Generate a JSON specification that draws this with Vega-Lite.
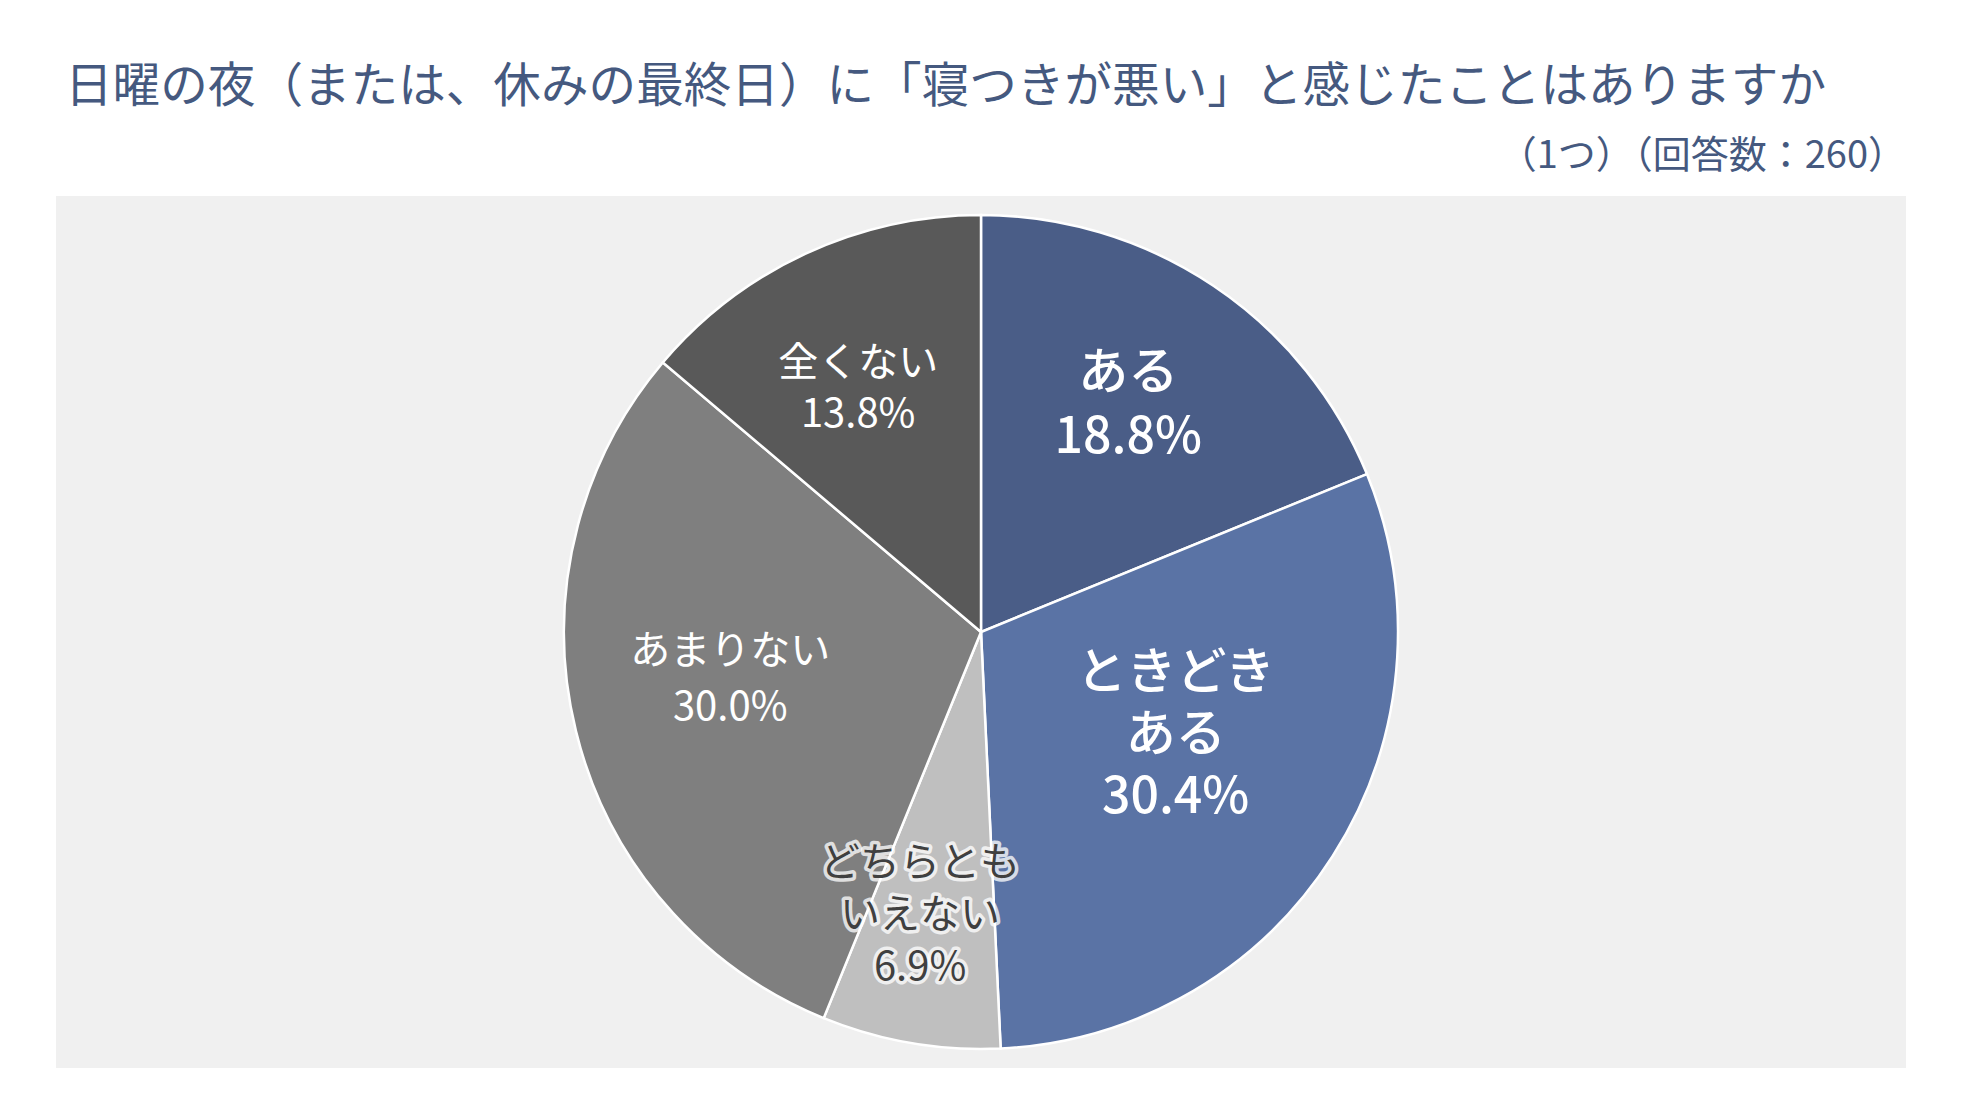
{
  "$schema": "https://vega.github.io/schema/vega-lite/v6.json",
  "padding": {"left": 56, "top": 64, "right": 0, "bottom": 0},
  "background": "white",
  "title": {
    "text": "日曜の夜（または、休みの最終日）に「寝つきが悪い」と感じたことはありますか",
    "anchor": "start",
    "dx": 9,
    "offset": 26,
    "fontSize": 47.6,
    "fontWeight": "normal",
    "color": "#45597F"
  },
  "spacing": 0,
  "vconcat": [
    {
      "width": 1850,
      "height": 872,
      "view": {"fill": "#F0F0F0", "stroke": null},
      "title": {
        "text": "（1つ）（回答数：260）",
        "anchor": "end",
        "dx": 0,
        "offset": 20,
        "fontSize": 38,
        "fontWeight": "normal",
        "color": "#45597F"
      },
      "data": {
        "values": [
          {"category": "ある", "label": "ある", "pct": 18.8, "idx": 1},
          {"category": "ときどきある", "label": "ときどき\nある", "pct": 30.4, "idx": 2},
          {"category": "どちらともいえない", "label": "どちらとも\nいえない", "pct": 6.9, "idx": 3},
          {"category": "あまりない", "label": "あまりない", "pct": 30.0, "idx": 4},
          {"category": "全くない", "label": "全くない", "pct": 13.8, "idx": 5}
        ]
      },
      "transform": [
        {"calculate": "datum.label + '\\n' + format(datum.pct, '.1f') + '%'", "as": "text"}
      ],
      "encoding": {
        "theta": {"field": "pct", "type": "quantitative", "stack": true},
        "order": {"field": "idx", "type": "quantitative"},
        "detail": {"field": "category", "type": "nominal"}
      },
      "layer": [
        {
          "mark": {"type": "arc", "outerRadius": 417, "stroke": "white", "strokeWidth": 2.5},
          "encoding": {
            "color": {
              "field": "category",
              "type": "nominal",
              "scale": {
                "domain": ["ある", "ときどきある", "どちらともいえない", "あまりない", "全くない"],
                "range": ["#4A5D87", "#5A73A5", "#BFBFBF", "#7F7F7F", "#595959"]
              },
              "legend": null
            }
          }
        },
        {
          "mark": {"type": "text", "fontSize": 50, "fontWeight": 500, "lineHeight": 64, "fill": "white", "lineBreak": "\n", "dx": -20, "dy": -9},
          "encoding": {
            "radius": {"value": 300},
            "text": {"condition": {"test": "datum.category === 'ある'", "field": "text"}, "value": ""}
          }
        },
        {
          "mark": {"type": "text", "fontSize": 50, "fontWeight": 500, "lineHeight": 62, "fill": "white", "lineBreak": "\n", "dx": 26, "dy": -66},
          "encoding": {
            "radius": {"value": 200},
            "text": {"condition": {"test": "datum.category === 'ときどきある'", "field": "text"}, "value": ""}
          }
        },
        {
          "mark": {"type": "text", "fontSize": 40, "lineHeight": 51, "fill": "white", "lineBreak": "\n", "dx": -3, "dy": -9},
          "encoding": {
            "radius": {"value": 285},
            "text": {"condition": {"test": "datum.category === '全くない'", "field": "text"}, "value": ""}
          }
        },
        {
          "mark": {"type": "text", "fontSize": 40, "lineHeight": 56, "fill": "white", "lineBreak": "\n", "dx": -8, "dy": -40},
          "encoding": {
            "radius": {"value": 250},
            "text": {"condition": {"test": "datum.category === 'あまりない'", "field": "text"}, "value": ""}
          }
        },
        {
          "mark": {"type": "text", "fontSize": 40, "lineHeight": 52, "fill": "white", "stroke": "white", "strokeWidth": 7, "strokeOpacity": 0.75, "strokeJoin": "round", "lineBreak": "\n", "dx": -20, "dy": -7},
          "encoding": {
            "radius": {"value": 242},
            "text": {"condition": {"test": "datum.category === 'どちらともいえない'", "field": "text"}, "value": ""}
          }
        },
        {
          "mark": {"type": "text", "fontSize": 40, "lineHeight": 52, "fill": "#404040", "lineBreak": "\n", "dx": -20, "dy": -7},
          "encoding": {
            "radius": {"value": 242},
            "text": {"condition": {"test": "datum.category === 'どちらともいえない'", "field": "text"}, "value": ""}
          }
        }
      ]
    }
  ],
  "config": {
    "font": "Noto Sans CJK JP",
    "title": {"font": "Noto Sans CJK JP", "subtitleFont": "Noto Sans CJK JP"}
  }
}
